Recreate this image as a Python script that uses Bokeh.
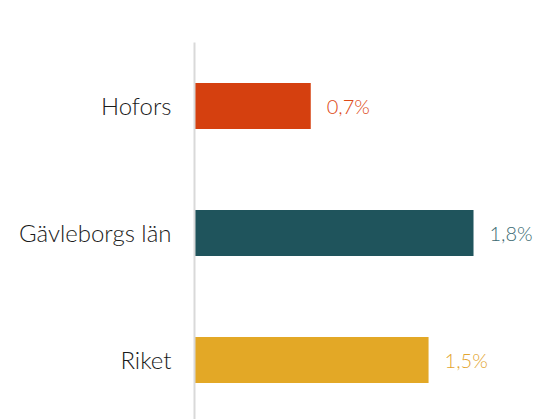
from bokeh.plotting import figure
from bokeh.models import Range1d, FixedTicker, ColumnDataSource
from bokeh.core.properties import value
from bokeh.embed import file_html
from bokeh.resources import INLINE

categories = ["Hofors", "Gävleborgs län", "Riket"]
values = [0.75, 1.80, 1.51]
value_labels = ["0,7%", "1,8%", "1,5%"]
bar_colors = ["#d5400f", "#1f545c", "#e3a826"]
label_colors = ["#dd4a17", "#3b6a72", "#e3a530"]

FONT = "Lato Light"

pos = list(range(len(categories)))
src = ColumnDataSource(dict(y=pos, v=values, lab=value_labels, bc=bar_colors, lc=label_colors))

p = figure(width=533, height=419, output_backend="svg", toolbar_location=None,
           x_range=Range1d(0, 2.187), y_range=Range1d(2.469, -0.5),
           min_border_left=194, min_border_right=0, min_border_top=42, min_border_bottom=0)
p.outline_line_color = None
p.xgrid.visible = False
p.ygrid.visible = False
p.xaxis.visible = False

p.hbar(y="y", right="v", left=0, height=0.362, fill_color="bc", line_color=None, source=src)
p.text(x="v", y="y", text="lab", text_color="lc", x_offset=16, text_baseline="middle",
       text_align="left", text_font=value(FONT), text_font_size="20px", source=src)

ya = p.yaxis[0]
ya.ticker = FixedTicker(ticks=pos)
ya.major_label_overrides = {i: c for i, c in enumerate(categories)}
ya.axis_line_color = "#d9d9d9"
ya.axis_line_width = 2
ya.major_tick_line_color = None
ya.minor_tick_line_color = None
ya.major_label_standoff = 17
ya.major_label_text_font = FONT
ya.major_label_text_font_size = "24px"
ya.major_label_text_color = "#1a1a1a"

open("out.html", "w").write(file_html(p, INLINE))
